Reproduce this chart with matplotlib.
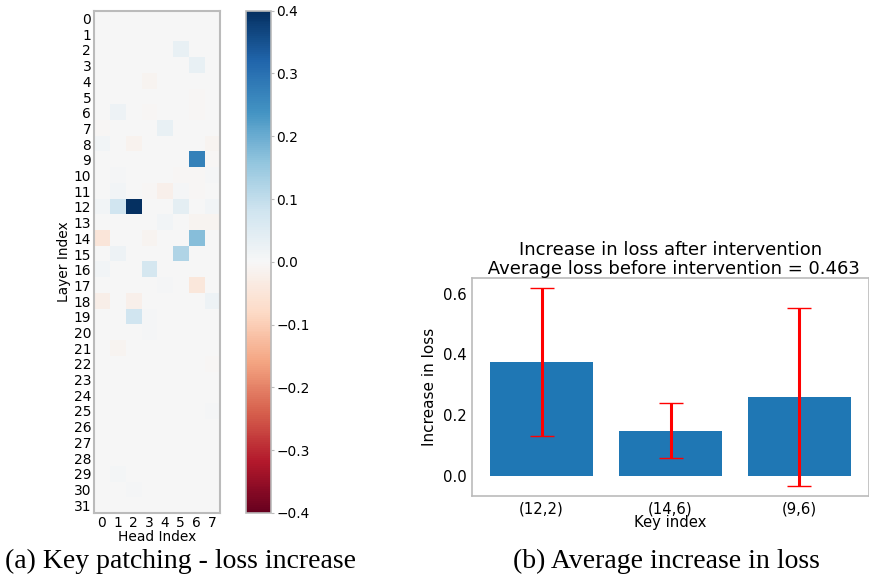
import numpy as np
import matplotlib
matplotlib.use("Agg")
import matplotlib.pyplot as plt

# ---- data ----
n_layers = 32
n_heads = 8
# (layer, head, value) non-zero cells
cells = [
    (2, 5, 0.03), (3, 6, 0.03), (4, 3, -0.01), (5, 6, -0.006),
    (6, 1, 0.02), (6, 3, -0.006), (6, 6, -0.004),
    (7, 0, -0.006), (7, 4, 0.03),
    (8, 0, 0.01), (8, 2, -0.015), (8, 7, -0.01),
    (9, 6, 0.27), (9, 7, -0.006),
    (10, 1, 0.006), (10, 5, -0.006), (10, 6, -0.006), (10, 7, 0.006),
    (11, 1, 0.01), (11, 3, -0.006), (11, 4, -0.02), (11, 5, 0.006), (11, 6, -0.004),
    (12, 0, 0.01), (12, 1, 0.08), (12, 2, 0.40), (12, 5, 0.04), (12, 7, 0.01),
    (13, 4, 0.01), (13, 6, -0.01), (13, 7, -0.01),
    (14, 0, -0.05), (14, 3, -0.01), (14, 6, 0.17),
    (15, 1, 0.02), (15, 5, 0.12),
    (16, 0, 0.01), (16, 3, 0.07),
    (17, 4, 0.004), (17, 6, -0.045),
    (18, 0, -0.025), (18, 2, -0.02), (18, 7, 0.02),
    (19, 2, 0.08), (19, 3, 0.004),
    (20, 3, 0.006), (21, 1, -0.012), (22, 7, -0.006),
    (25, 7, 0.006), (29, 1, 0.008), (30, 2, 0.006),
]
key_labels = ["(12,2)", "(14,6)", "(9,6)"]
loss_increase = [0.375, 0.148, 0.26]
loss_err = [0.245, 0.091, 0.294]
cbar_ticks = [-0.4, -0.3, -0.2, -0.1, 0.0, 0.1, 0.2, 0.3, 0.4]

grid = np.zeros((n_layers, n_heads))
for l, h, v in cells:
    grid[l, h] = v

W, H = 869, 575
fig = plt.figure(figsize=(W / 100, H / 100), dpi=100)

def ax_rect(x0, y0, x1, y1):
    return [x0 / W, 1 - y1 / H, (x1 - x0) / W, (y1 - y0) / H]

spine_col = "#bbbbbb"
tick_fs = 9.9
bar_fs = 10.7

# ---- heatmap ----
ax1 = fig.add_axes(ax_rect(94, 10.7, 220, 513))
im = ax1.imshow(grid, cmap="RdBu", vmin=-0.4, vmax=0.4, aspect="auto",
                interpolation="nearest")
ax1.set_xticks(range(n_heads))
ax1.set_yticks(range(n_layers))
ax1.tick_params(length=0, labelsize=tick_fs, pad=2)
ax1.set_xlabel("Head Index", fontsize=tick_fs, labelpad=0)
ax1.set_ylabel("Layer Index", fontsize=tick_fs, labelpad=2)
for s in ax1.spines.values():
    s.set_color(spine_col)
    s.set_linewidth(1.5)

# ---- colorbar ----
cax = fig.add_axes(ax_rect(246, 10.7, 271, 513))
cb = fig.colorbar(im, cax=cax, ticks=cbar_ticks)
cb.outline.set_edgecolor(spine_col)
cb.outline.set_linewidth(1.2)
cax.tick_params(length=2, color=spine_col, labelsize=tick_fs, pad=2)

# ---- bar chart ----
ax2 = fig.add_axes(ax_rect(472, 277.7, 869, 496))
x = np.arange(len(key_labels))
ax2.bar(x, loss_increase, width=0.8, color="#1f77b4",
        yerr=loss_err, error_kw=dict(ecolor="red", elinewidth=2.2,
                                     capsize=8.5, capthick=1.0))
ax2.set_xticks(x)
ax2.set_xticklabels(key_labels)
ax2.set_yticks([0.0, 0.2, 0.4, 0.6])
ax2.tick_params(length=0, labelsize=bar_fs, pad=4)
ax2.set_xlabel("Key index", fontsize=bar_fs, labelpad=-1)
ax2.set_ylabel("Increase in loss", fontsize=11)
ax2.set_title("Increase in loss after intervention\n Average loss before intervention = 0.463",
              fontsize=13, pad=3, linespacing=1.05)
for s in ax2.spines.values():
    s.set_color(spine_col)
    s.set_linewidth(1.2)

# ---- captions ----
fig.text(5 / W, 1 - 561 / H, "(a) Key patching - loss increase",
         family="Liberation Serif", fontsize=20, ha="left", va="center")
fig.text(513 / W, 1 - 561 / H, "(b) Average increase in loss",
         family="Liberation Serif", fontsize=20, ha="left", va="center")

fig.savefig("out.png", dpi=100)
